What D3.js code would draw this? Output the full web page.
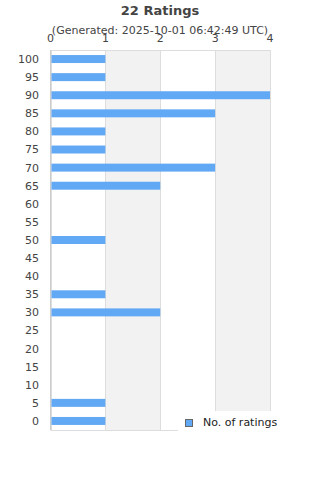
<!DOCTYPE html>
<html><head><meta charset="utf-8">
<script src="https://cdn.jsdelivr.net/npm/d3@7/dist/d3.min.js"></script>
<style>body{margin:0;background:#fff;}svg{display:block;font-family:"DejaVu Sans",sans-serif;}</style>
</head><body><svg id="c" width="320" height="480"></svg>
<script>
const categories = ["100","95","90","85","80","75","70","65","60","55","50","45","40","35","30","25","20","15","10","5","0"];
const counts = [1,1,4,3,1,1,3,2,0,0,1,0,0,1,2,0,0,0,0,1,1];
const xTicks = [0,1,2,3,4];
const title = "22 Ratings";
const subtitle = "(Generated: 2025-10-01 06:42:49 UTC)";
const seriesName = "No. of ratings";

const svg = d3.select("#c");
const L = 50.5, R = 270, T = 50, B = 430;
const x = d3.scaleLinear().domain([0,4]).range([L,R]);
const y = d3.scaleBand().domain(categories).range([T,B]).paddingInner(0.56).paddingOuter(0.28);
const yb = d3.scaleBand().domain(categories).range([T,B]);

// alternating bands
svg.selectAll("rect.band").data([0,1,2,3]).join("rect")
  .attr("x", d=>x(d)).attr("y", T).attr("width", d=>x(d+1)-x(d)).attr("height", B-T)
  .attr("fill", d=> d%2 ? "#f2f2f2" : "#fff");
// grid lines
svg.selectAll("line.grid").data(xTicks).join("line")
  .attr("x1", d=>Math.round(x(d))+0.5).attr("x2", d=>Math.round(x(d))+0.5)
  .attr("y1", T).attr("y2", B).attr("stroke", "#ddd").attr("stroke-width",1);
// frame
svg.append("line").attr("x1",L).attr("x2",R).attr("y1",T+0.5).attr("y2",T+0.5).attr("stroke","#ddd");
svg.append("line").attr("x1",L).attr("x2",R).attr("y1",B+0.5).attr("y2",B+0.5).attr("stroke","#ddd");
svg.append("line").attr("x1",L).attr("x2",L).attr("y1",T).attr("y2",B).attr("stroke","#ccc");

// bars
svg.selectAll("rect.bar").data(categories.map((c,i)=>({c, v:counts[i]})).filter(d=>d.v>0)).join("rect")
  .attr("x", x(0)+1).attr("y", d=>y(d.c)).attr("width", d=>x(d.v)-x(0)-1).attr("height", y.bandwidth())
  .attr("fill", "#61a8f5");

// y labels
svg.selectAll("text.yl").data(categories).join("text")
  .attr("x", 39).attr("y", d=>yb(d)+yb.bandwidth()/2).attr("dy","0.36em")
  .attr("text-anchor","end").attr("font-size",11).attr("fill","#444").text(d=>d);
// x labels (top)
svg.selectAll("text.xl").data(xTicks).join("text")
  .attr("x", d=>x(d)).attr("y", 42).attr("text-anchor","middle")
  .attr("font-size",11).attr("fill","#444").text(d=>d);

// titles
svg.append("text").attr("x",160).attr("y",15).attr("text-anchor","middle")
  .attr("font-size",13).attr("font-weight","bold").attr("fill","#444").text(title);
svg.append("text").attr("x",160).attr("y",34).attr("text-anchor","middle")
  .attr("font-size",11).attr("fill","#444").text(subtitle);

// legend
svg.append("rect").attr("x",178).attr("y",411).attr("width",142).attr("height",26).attr("fill","#fff");
svg.append("rect").attr("x",185.5).attr("y",419.5).attr("width",7).attr("height",7)
  .attr("fill","#61a8f5").attr("stroke","#666").attr("stroke-width",1);
svg.append("text").attr("x",203).attr("y",426).attr("font-size",11).attr("fill","#222").text(seriesName);
</script></body></html>
